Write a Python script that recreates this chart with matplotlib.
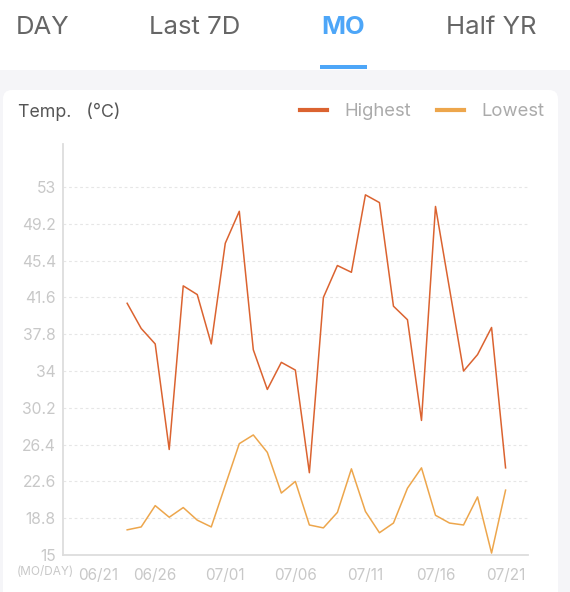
import numpy as np
import pandas as pd
import matplotlib as mpl
from matplotlib import pyplot as plt
from matplotlib.patches import Rectangle, FancyBboxPatch
from matplotlib.transforms import ScaledTranslation

# fonts
plt.rcParams['font.family'] = ['Inter', 'DejaVu Sans']

# colours
c_high = '#DB6330'
c_low = '#EDA64C'
c_tick = '#C8C8C8'
c_grid = '#E6E6E6'
c_axis = '#DDDDDD'
c_bck = '#F5F5F8'
c_blue = '#4DA6F8'

# the data
tabs = ['DAY', 'Last 7D', 'MO', 'Half YR']
dates = pd.date_range('2023-06-21', '2023-07-21').strftime('%m/%d').tolist()
first_day = '06/24'
highest = [41.0, 38.4, 36.8, 25.9, 42.8, 41.9, 36.8, 47.2, 50.5, 36.2,
           32.1, 34.9, 34.1, 23.5, 41.6, 44.9, 44.2, 52.2, 51.4, 40.7,
           39.3, 28.9, 51.0, 42.5, 34.0, 35.7, 38.5, 24.0]
lowest = [17.6, 17.9, 20.1, 18.9, 19.9, 18.6, 17.9, 22.2, 26.5, 27.4,
          25.6, 21.4, 22.6, 18.1, 17.8, 19.4, 23.9, 19.5, 17.3, 18.3,
          21.9, 24.0, 19.1, 18.3, 18.1, 21.0, 15.2, 21.7]
yticks = [15, 18.8, 22.6, 26.4, 30.2, 34, 37.8, 41.6, 45.4, 49.2, 53]
ytick_labels = ['15', '18.8', '22.6', '26.4', '30.2', '34', '37.8',
                '41.6', '45.4', '49.2', '53']
xtick_labels = ['06/21', '06/26', '07/01', '07/06', '07/11', '07/16', '07/21']

# figure size in pixels
W, H = 570, 592
dpi = 100
fig = plt.figure(figsize=(W / dpi, H / dpi), dpi=dpi)

#####
# background: tab bar, grey page, white card (pixel coordinates)
bg = fig.add_axes([0, 0, 1, 1])
bg.set_xlim(0, W)
bg.set_ylim(H, 0)
bg.axis('off')

bg.add_patch(Rectangle((0, 70), W, H - 70, color=c_bck, lw=0))
bg.add_patch(FancyBboxPatch((3, 90), 555, 560,
                            boxstyle='round,pad=0,rounding_size=9',
                            fc='white', ec='none'))

tab_x = [43, 194.5, 343.5, 491]
for name, x in zip(tabs, tab_x):
    if name == 'MO':
        bg.text(x, 27, name, ha='center', va='center', fontsize=18.5,
                color=c_blue, fontweight='bold')
    else:
        bg.text(x, 27, name, ha='center', va='center', fontsize=18.5,
                color='#666666')
bg.add_patch(Rectangle((320, 65), 47, 4, color=c_blue, lw=0))

bg.text(17.5, 112, 'Temp.   (°C)', ha='left', va='center', fontsize=12.8,
        color='#555555')
bg.text(17, 572, '(MO/DAY)', ha='left', va='center', fontsize=8.5,
        color=c_tick)

#####
# the chart
ax = fig.add_axes([62.7 / W, 1 - 555 / H, 465.3 / W, 410.5 / H])
ax.patch.set_alpha(0)

x0 = dates.index(first_day)
x_high = np.arange(x0, x0 + len(highest))
x_low = np.arange(x0, x0 + len(lowest))
ax.plot(x_high, highest, color=c_high, lw=1.1, label='Highest')
ax.plot(x_low, lowest, color=c_low, lw=1.1, label='Lowest')

ax.set_xlim(-1.6, len(dates) - 1 + 1.6)
ax.set_ylim(15, 57.4)

ax.set_yticks(yticks)
ax.set_yticklabels(ytick_labels)
ax.set_xticks([dates.index(d) for d in xtick_labels])
ax.set_xticklabels(xtick_labels)
ax.tick_params(length=0, labelsize=11.3, colors=c_tick)
ax.tick_params(axis='y', pad=5)
ax.tick_params(axis='x', pad=9, labelsize=11)

# first date label sits right of the (MO/DAY) note
tick0 = ax.xaxis.get_major_ticks()[0]
tick0.label1.set_transform(tick0.label1.get_transform() +
                           ScaledTranslation(13 / dpi, 0, fig.dpi_scale_trans))

ax.yaxis.grid(True, color=c_grid, lw=0.8, linestyle=(0, (2.5, 2.5)))
for s in ['top', 'right']:
    ax.spines[s].set_visible(False)
for s in ['left', 'bottom']:
    ax.spines[s].set_color(c_axis)
    ax.spines[s].set_linewidth(1.3)

# legend
leg = ax.legend(loc='center left', bbox_to_anchor=(300, 112),
                bbox_transform=bg.transData, ncol=2, frameon=False,
                fontsize=13.3, handlelength=1.45, handletextpad=0.95,
                columnspacing=1.4, borderpad=0, borderaxespad=0)
for t in leg.get_texts():
    t.set_color('#ABABAB')
for h in leg.legend_handles:
    h.set_linewidth(3)

plt.savefig('out.png', dpi=dpi)
plt.close()
